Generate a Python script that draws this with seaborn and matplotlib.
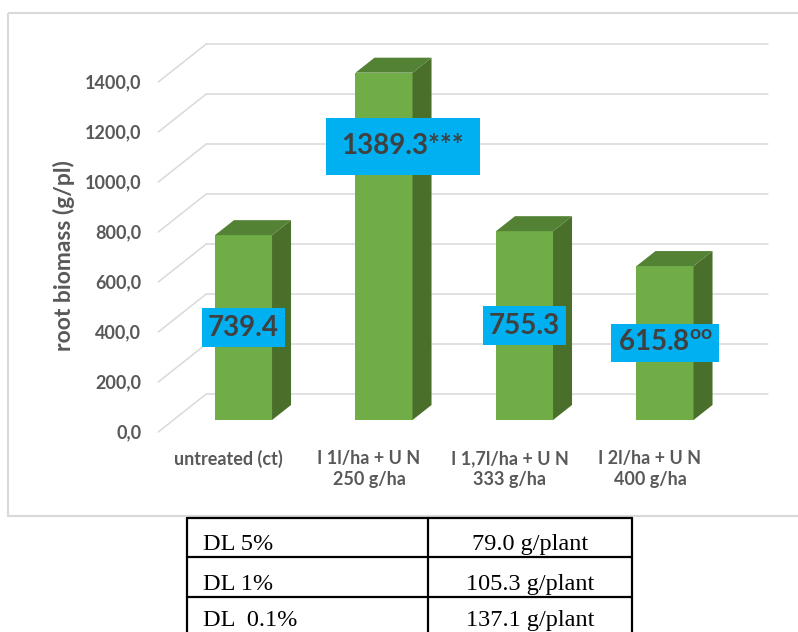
import matplotlib
matplotlib.use("Agg")
import numpy as np
import pandas as pd
import seaborn as sns
import matplotlib.pyplot as plt
from matplotlib.patches import Polygon, Rectangle

# ---- data -------------------------------------------------------------
treatments = [
    "untreated (ct)",
    "I 1l/ha + U N\n250 g/ha",
    "I 1,7l/ha + U N\n333 g/ha",
    "I 2l/ha + U N\n400 g/ha",
]
root_biomass = [739.4, 1389.3, 755.3, 615.8]
significance = ["", "***", "", "oo"]
y_ticks = [0, 200, 400, 600, 800, 1000, 1200, 1400]
y_label = "root biomass (g/pl)"

dl_levels = ["DL 5%", "DL 1%", "DL  0.1%"]
dl_values = ["79.0 g/plant", "105.3 g/plant", "137.1 g/plant"]

# ---- style ------------------------------------------------------------
sns.set_theme(style="white")
plt.rcParams["font.family"] = ["Lato", "DejaVu Sans"]
plt.rcParams["mathtext.fontset"] = "custom"
plt.rcParams["mathtext.rm"] = "Lato"
plt.rcParams["mathtext.bf"] = "Lato:bold"

FRONT_C = "#70AD47"
SIDE_C = "#4A6F2A"
TOP_C = "#548235"
GRID_C = "#D9D9D9"
AXIS_TXT = "#595959"
LABEL_BG = "#00B0F0"
LABEL_TXT = "#404040"

W, H = 798, 632
fig = plt.figure(figsize=(W / 100, H / 100), dpi=100)

# pixel-space layer for the frame and the table
bg = fig.add_axes([0, 0, 1, 1])
bg.set_xlim(0, W)
bg.set_ylim(H, 0)
bg.axis("off")
bg.add_patch(Rectangle((8, 13), 800, 503, fill=False, ec=GRID_C, lw=1.5))

# chart plane (front faces of the columns)
ax = fig.add_axes([173.25 / W, 212 / H, 562 / W, 350 / H])
df = pd.DataFrame({"treatment": treatments, "biomass": root_biomass})
sns.barplot(data=df, x="treatment", y="biomass", color=FRONT_C, saturation=1,
            width=0.406, linewidth=0, ax=ax, zorder=3)
ax.set_xlim(-0.5, 3.5)
ax.set_ylim(0, 1400)
ax.axis("off")

# pixel offsets expressed in data units
o = ax.transData.transform((0, 0))
sx = ax.transData.transform((1, 0))[0] - o[0]
sy = ax.transData.transform((0, 1))[1] - o[1]


def px(dx, dy):
    return dx / sx, dy / sy


back = px(33, 26)      # back wall
front = px(-15, -12)   # front edge of the side wall
depth = px(19, 15)     # column depth

# back wall gridlines and side wall diagonals
for v in y_ticks:
    ax.plot([-0.5 + back[0], 3.5 + back[0]], [v + back[1], v + back[1]],
            color=GRID_C, lw=1.1, clip_on=False, zorder=1)
    ax.plot([-0.5 + front[0], -0.5 + back[0]], [v + front[1], v + back[1]],
            color=GRID_C, lw=1.1, clip_on=False, zorder=1)
    tx, ty = px(-32, -13)
    ax.text(-0.5 + tx, v + ty, f"{v:.1f}".replace(".", ","), ha="right",
            va="center", fontsize=13, fontweight="bold", color=AXIS_TXT)

# side and top faces of the columns
for p in ax.patches[:len(root_biomass)]:
    x0, w, h = p.get_x(), p.get_width(), p.get_height()
    dx, dy = depth
    side = [(x0 + w, 0), (x0 + w, h), (x0 + w + dx, h + dy), (x0 + w + dx, dy)]
    top = [(x0, h), (x0 + w, h), (x0 + w + dx, h + dy), (x0 + dx, h + dy)]
    ax.add_patch(Polygon(side, closed=True, fc=SIDE_C, ec="none", zorder=3, clip_on=False))
    ax.add_patch(Polygon(top, closed=True, fc=TOP_C, ec="none", zorder=3, clip_on=False))

# category labels along the front edge of the floor
lx, ly = px(-15, -30)
for i, name in enumerate(treatments):
    ax.text(i + lx, ly, name, ha="center", va="top", multialignment="center",
            fontsize=13, fontweight="bold", color=AXIS_TXT, linespacing=1.25)

# value labels
label_frac = [0.5, 0.788, 0.5, 0.5]
label_dx = [0.0, 0.135, 0.0, 0.0]
label_pad = [0.23, 0.55, 0.23, 0.23]
for i, (v, s) in enumerate(zip(root_biomass, significance)):
    txt = f"{v:.1f}"
    if s == "oo":
        txt += r"$^{\mathbf{oo}}$"
    else:
        txt += s
    ax.text(i + label_dx[i], v * label_frac[i], txt, ha="center", va="center",
            fontsize=20, fontweight="bold", color=LABEL_TXT, zorder=6,
            bbox=dict(boxstyle=f"square,pad={label_pad[i]}", fc=LABEL_BG, ec="none"))

fig.text(64 / W, 1 - 256 / H, y_label, rotation=90, ha="center", va="center",
         fontsize=16.5, fontweight="bold", color=AXIS_TXT)

# significance table
rows_y = [518, 557, 597, 640]
for y in rows_y:
    bg.plot([187, 632], [y, y], color="black", lw=1.6, clip_on=False)
for x in [187, 428, 632]:
    bg.plot([x, x], [rows_y[0], rows_y[-1]], color="black", lw=1.6, clip_on=False)
baselines = [550, 590, 626]
for lvl, val, base in zip(dl_levels, dl_values, baselines):
    bg.text(203, base, lvl, ha="left", va="baseline", fontsize=17.5,
            family="Liberation Serif", color="black")
    bg.text(530, base, val, ha="center", va="baseline", fontsize=17.5,
            family="Liberation Serif", color="black")

fig.savefig("out.png", dpi=100, facecolor="white")
